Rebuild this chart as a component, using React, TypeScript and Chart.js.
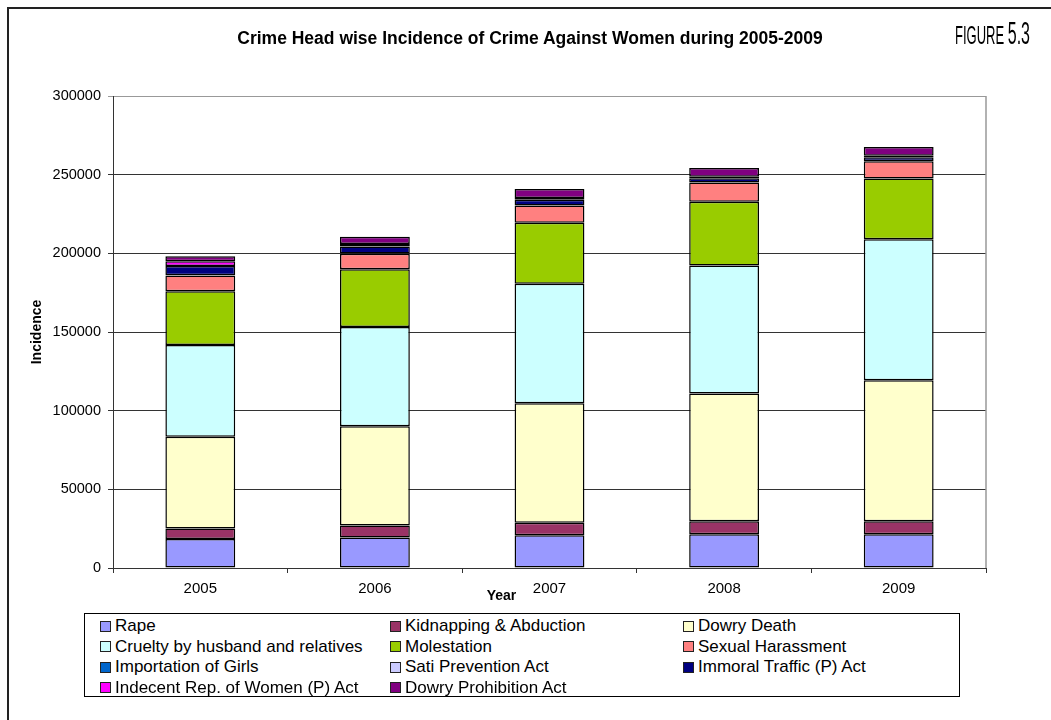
import React, { useEffect, useRef } from "react";
import { Chart, registerables } from "chart.js";

Chart.register(...registerables);

const years = ["2005", "2006", "2007", "2008", "2009"];

const seriesNames = [
  "Rape",
  "Kidnapping & Abduction",
  "Dowry Death",
  "Cruelty by husband and relatives",
  "Molestation",
  "Sexual Harassment",
  "Importation of Girls",
  "Sati Prevention Act",
  "Immoral Traffic (P) Act",
  "Indecent Rep. of Women (P) Act",
  "Dowry Prohibition Act",
];

const seriesColors = [
  "#9999FF",
  "#993366",
  "#FFFFCC",
  "#CCFFFF",
  "#99CC00",
  "#FF8080",
  "#0066CC",
  "#CCCCFF",
  "#000080",
  "#FF00FF",
  "#800080",
];

const rape = [18359, 19348, 20737, 21467, 21397];
const kidnapping = [6787, 7618, 8093, 8172, 8383];
const dowryDeath = [58319, 63128, 75930, 81344, 89546];
const cruelty = [58319, 63128, 75930, 81344, 89546];
const molestation = [34175, 36617, 38734, 40413, 38711];
const sexualHarassment = [9984, 9966, 10950, 12214, 11009];
const importation = [149, 67, 61, 67, 48];
const sati = [1, 0, 0, 1, 0];
const immoralTraffic = [5908, 4541, 3568, 2659, 2474];
const indecentRep = [2917, 1562, 1200, 1025, 845];
const dowryProhibition = [3204, 4504, 5623, 5555, 5650];

const seriesValues = [
  rape,
  kidnapping,
  dowryDeath,
  cruelty,
  molestation,
  sexualHarassment,
  importation,
  sati,
  immoralTraffic,
  indecentRep,
  dowryProhibition,
];

const yMin = 0;
const yMax = 300000;
const yStep = 50000;

const FONT = '"Liberation Sans", Arial, sans-serif';

const axisTitlesPlugin = {
  id: "axisTitles",
  beforeDatasetsDraw(chart: any) {
    const { ctx, chartArea } = chart;
    ctx.save();
    ctx.strokeStyle = "#999999";
    ctx.lineWidth = 1.5;
    ctx.beginPath();
    ctx.moveTo(chartArea.right, chartArea.top);
    ctx.lineTo(chartArea.right, chartArea.bottom);
    ctx.stroke();
    ctx.restore();
  },
  afterDraw(chart: any) {
    const { ctx, chartArea } = chart;
    ctx.save();
    ctx.fillStyle = "#000";
    ctx.font = "bold 14px " + FONT;
    ctx.textAlign = "center";
    ctx.textBaseline = "middle";
    ctx.fillText("Year", chartArea.left + chartArea.width * 0.445, chartArea.bottom + 28);
    ctx.translate(chartArea.left - 76, (chartArea.top + chartArea.bottom) / 2);
    ctx.rotate(-Math.PI / 2);
    ctx.fillText("Incidence", 0, 0);
    ctx.restore();
  },
};

export default function App() {
  const canvasRef = useRef<HTMLCanvasElement | null>(null);

  useEffect(() => {
    if (!canvasRef.current) return;
    const chart = new Chart(canvasRef.current, {
      type: "bar",
      data: {
        labels: years,
        datasets: seriesNames.map((name, i) => ({
          label: name,
          data: seriesValues[i],
          backgroundColor: seriesColors[i],
          borderColor: "#000000",
          borderWidth: 1.5,
          borderSkipped: false,
          categoryPercentage: 1,
          barPercentage: 0.4,
        })),
      },
      options: {
        responsive: false,
        animation: false,
        devicePixelRatio: 1,
        layout: { padding: { top: 96, right: 65, left: 0, bottom: 0 } },
        plugins: {
          legend: { display: false },
          title: { display: false },
          tooltip: { enabled: false },
        },
        scales: {
          x: {
            stacked: true,
            afterFit(scale: any) {
              scale.height = 152;
            },
            grid: {
              display: true,
              drawOnChartArea: false,
              drawTicks: true,
              tickLength: 5,
              color: "#333333",
              offset: true,
            },
            border: { display: true, color: "#333333" },
            ticks: {
              color: "#000",
              font: { family: FONT, size: 15 },
              padding: 7,
            },
          },
          y: {
            stacked: true,
            min: yMin,
            max: yMax,
            afterFit(scale: any) {
              scale.width = 113;
            },
            ticks: {
              stepSize: yStep,
              color: "#000",
              font: { family: FONT, size: 14.5 },
              padding: 7,
              callback: (v: any) => String(v),
            },
            grid: {
              color: (c: any) => (c.tick && c.tick.value === yMax ? "#999999" : "#333333"),
              lineWidth: 1,
              tickLength: 5,
              drawTicks: true,
            },
            border: { display: true, color: "#333333" },
          },
        },
      },
      plugins: [axisTitlesPlugin],
    });
    return () => chart.destroy();
  }, []);

  const legendCols = [15, 305, 598];
  const rowTop = 2;
  const rowH = 20.5;

  return (
    <div
      style={{
        position: "absolute",
        left: 0,
        top: 0,
        width: 1051,
        height: 720,
        overflow: "hidden",
        background: "#fff",
      }}
    >
      <div
        style={{
          position: "absolute",
          left: 7,
          top: 7,
          width: 1200,
          height: 900,
          borderLeft: "2px solid #222",
          borderTop: "2px solid #222",
        }}
      />
      <canvas
        ref={canvasRef}
        width={1051}
        height={720}
        style={{ position: "absolute", left: 0, top: 0, width: 1051, height: 720 }}
      />
      <div
        style={{
          position: "absolute",
          left: 130,
          top: 28,
          width: 800,
          textAlign: "center",
          fontFamily: FONT,
          fontWeight: "bold",
          fontSize: 17.5,
          lineHeight: "20px",
          color: "#000",
          whiteSpace: "nowrap",
        }}
      >
        Crime Head wise Incidence of Crime Against Women during 2005-2009
      </div>
      <div
        style={{
          position: "absolute",
          left: 955,
          top: 18,
          fontFamily: FONT,
          lineHeight: "30px",
          color: "#000",
          whiteSpace: "nowrap",
          transform: "scaleX(0.5)",
          transformOrigin: "left top",
        }}
      >
        <span style={{ fontSize: 26 }}>FIGURE </span>
        <span style={{ fontSize: 32 }}>5.3</span>
      </div>
      <div
        style={{
          position: "absolute",
          left: 84,
          top: 613,
          width: 874,
          height: 82,
          border: "1px solid #000",
          background: "#fff",
          fontFamily: FONT,
          fontSize: 17,
          color: "#000",
        }}
      >
        {seriesNames.map((name, i) => (
          <div
            key={name}
            style={{
              position: "absolute",
              left: legendCols[i % 3],
              top: rowTop + Math.floor(i / 3) * rowH,
              height: rowH,
              lineHeight: rowH + "px",
              display: "flex",
              alignItems: "center",
              whiteSpace: "nowrap",
            }}
          >
            <span
              style={{
                display: "inline-block",
                width: 9,
                height: 9,
                border: "1px solid #222",
                background: seriesColors[i],
                marginRight: 4,
              }}
            />
            <span>{name}</span>
          </div>
        ))}
      </div>
    </div>
  );
}
